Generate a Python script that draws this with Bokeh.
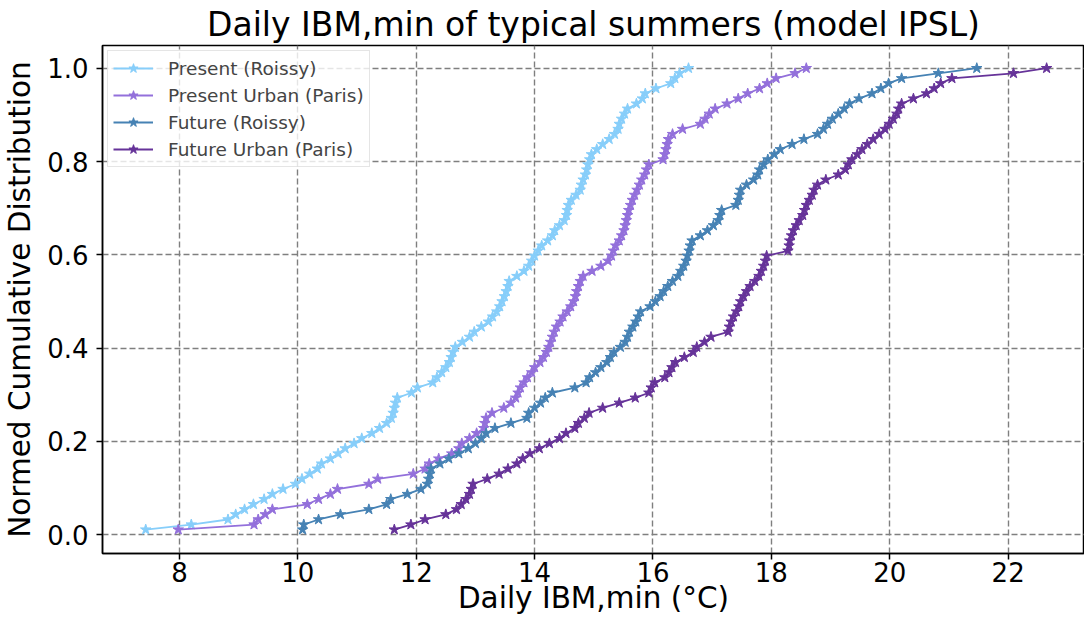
from bokeh.plotting import figure
from bokeh.models import Range1d, FixedTicker, PrintfTickFormatter, Title
from bokeh.embed import file_html
from bokeh.resources import INLINE

# Normed cumulative fraction (rank / 92 days)
cum_frac = [
    0.0109, 0.0217, 0.0326, 0.0435, 0.0543, 0.0652, 0.0761, 0.0870, 0.0978, 0.1087,
    0.1196, 0.1304, 0.1413, 0.1522, 0.1630, 0.1739, 0.1848, 0.1957, 0.2065, 0.2174,
    0.2283, 0.2391, 0.2500, 0.2609, 0.2717, 0.2826, 0.2935, 0.3043, 0.3152, 0.3261,
    0.3370, 0.3478, 0.3587, 0.3696, 0.3804, 0.3913, 0.4022, 0.4130, 0.4239, 0.4348,
    0.4457, 0.4565, 0.4674, 0.4783, 0.4891, 0.5000, 0.5109, 0.5217, 0.5326, 0.5435,
    0.5543, 0.5652, 0.5761, 0.5870, 0.5978, 0.6087, 0.6196, 0.6304, 0.6413, 0.6522,
    0.6630, 0.6739, 0.6848, 0.6957, 0.7065, 0.7174, 0.7283, 0.7391, 0.7500, 0.7609,
    0.7717, 0.7826, 0.7935, 0.8043, 0.8152, 0.8261, 0.8370, 0.8478, 0.8587, 0.8696,
    0.8804, 0.8913, 0.9022, 0.9130, 0.9239, 0.9348, 0.9457, 0.9565, 0.9674, 0.9783,
    0.9891, 1.0000,
]

present_roissy = [
    7.43, 8.20, 8.82, 8.95, 9.10, 9.25, 9.43, 9.57, 9.75, 9.96,
    10.07, 10.20, 10.33, 10.40, 10.55, 10.68, 10.80, 10.95, 11.08, 11.25,
    11.38, 11.50, 11.58, 11.61, 11.63, 11.65, 11.68, 11.92, 12.02, 12.28,
    12.35, 12.43, 12.50, 12.56, 12.59, 12.62, 12.66, 12.78, 12.90, 12.98,
    13.10, 13.22, 13.29, 13.36, 13.41, 13.45, 13.49, 13.52, 13.55, 13.57,
    13.70, 13.82, 13.90, 13.95, 14.00, 14.06, 14.12, 14.22, 14.30, 14.34,
    14.42, 14.50, 14.54, 14.55, 14.57, 14.62, 14.70, 14.77, 14.79, 14.82,
    14.86, 14.88, 14.90, 14.93, 14.96, 15.05, 15.15, 15.26, 15.35, 15.41,
    15.43, 15.47, 15.52, 15.57, 15.72, 15.82, 15.87, 16.05, 16.30, 16.37,
    16.45, 16.60,
]

present_urban = [
    7.98, 9.26, 9.33, 9.45, 9.57, 10.16, 10.35, 10.55, 10.67, 11.20,
    11.35, 11.95, 12.15, 12.22, 12.38, 12.60, 12.72, 12.77, 12.90, 13.02,
    13.14, 13.16, 13.18, 13.28, 13.48, 13.60, 13.68, 13.72, 13.76, 13.82,
    13.88, 13.95, 14.00, 14.09, 14.15, 14.20, 14.24, 14.27, 14.30, 14.33,
    14.37, 14.43, 14.48, 14.55, 14.61, 14.66, 14.69, 14.71, 14.74, 14.77,
    14.82, 14.97, 15.12, 15.24, 15.30, 15.33, 15.37, 15.43, 15.47, 15.51,
    15.53, 15.55, 15.57, 15.59, 15.62, 15.65, 15.69, 15.73, 15.77, 15.81,
    15.86, 15.89, 15.93, 16.17, 16.20, 16.22, 16.24, 16.26, 16.33, 16.50,
    16.80, 16.88, 16.95, 17.05, 17.25, 17.44, 17.60, 17.80, 17.93, 18.08,
    18.40, 18.59,
]

future_roissy = [
    10.08, 10.10, 10.35, 10.72, 11.20, 11.50, 11.57, 11.85, 12.08, 12.19,
    12.21, 12.23, 12.25, 12.40, 12.55, 12.72, 12.88, 13.00, 13.10, 13.18,
    13.33, 13.60, 13.87, 13.90, 14.00, 14.10, 14.18, 14.30, 14.68, 14.87,
    14.93, 15.03, 15.12, 15.22, 15.28, 15.34, 15.45, 15.53, 15.57, 15.60,
    15.66, 15.71, 15.75, 15.79, 15.95, 16.04, 16.12, 16.18, 16.25, 16.33,
    16.42, 16.47, 16.52, 16.56, 16.58, 16.61, 16.63, 16.66, 16.80, 16.92,
    17.02, 17.10, 17.13, 17.16, 17.40, 17.44, 17.46, 17.48, 17.58, 17.70,
    17.77, 17.80, 17.87, 17.94, 18.05, 18.15, 18.35, 18.55, 18.78, 18.88,
    18.95, 19.03, 19.13, 19.23, 19.32, 19.48, 19.70, 19.85, 19.98, 20.20,
    20.82, 21.47,
]

future_urban = [
    11.63, 11.91, 12.15, 12.50, 12.68, 12.76, 12.84, 12.90, 12.93, 12.96,
    13.20, 13.40, 13.55, 13.70, 13.80, 13.92, 14.08, 14.25, 14.42, 14.53,
    14.68, 14.74, 14.84, 14.92, 15.15, 15.43, 15.70, 15.93, 15.97, 16.03,
    16.20, 16.27, 16.32, 16.38, 16.53, 16.68, 16.74, 16.87, 16.98, 17.27,
    17.29, 17.32, 17.36, 17.41, 17.45, 17.48, 17.53, 17.58, 17.64, 17.72,
    17.79, 17.83, 17.87, 17.90, 17.92, 18.28, 18.30, 18.31, 18.34, 18.37,
    18.42, 18.47, 18.53, 18.56, 18.59, 18.64, 18.69, 18.72, 18.78, 18.92,
    19.13, 19.25, 19.30, 19.36, 19.45, 19.53, 19.62, 19.72, 19.82, 19.92,
    19.99, 20.06, 20.12, 20.15, 20.20, 20.40, 20.62, 20.75, 20.86, 21.05,
    22.09, 22.65,
]

series_names = ["Present (Roissy)", "Present Urban (Paris)", "Future (Roissy)", "Future Urban (Paris)"]
series_values = [present_roissy, present_urban, future_roissy, future_urban]
series_colors = ["#87CEFA", "#9370DB", "#4682B4", "#663399"]

x_ticks = [8, 10, 12, 14, 16, 18, 20, 22]
y_ticks = [0.0, 0.2, 0.4, 0.6, 0.8, 1.0]

FONT = "DejaVu Sans"

p = figure(
    frame_width=982, frame_height=508,
    x_range=Range1d(6.70, 23.29), y_range=Range1d(-0.0403, 1.0487),
    output_backend="svg", toolbar_location=None,
    min_border_left=0, min_border_top=0, min_border_right=0, min_border_bottom=0,
    background_fill_color="white", border_fill_color="white",
)

p.outline_line_color = "black"
p.outline_line_width = 1.5
p.outline_line_alpha = 1.0

p.add_layout(Title(text="Daily IBM,min of typical summers (model IPSL)", align="center",
                   text_font=FONT, text_font_size="33px", text_font_style="normal",
                   text_color="black", standoff=4), "above")

for name, vals, col in zip(series_names, series_values, series_colors):
    p.line(vals, cum_frac, line_color=col, line_width=1.8, legend_label=name)
    p.scatter(vals, cum_frac, marker="star", size=11, fill_color=col, line_color=col,
              legend_label=name)

p.xaxis.ticker = FixedTicker(ticks=x_ticks)
p.yaxis.ticker = FixedTicker(ticks=y_ticks)
p.yaxis.formatter = PrintfTickFormatter(format="%.1f")

for ax in (p.xaxis, p.yaxis):
    ax.axis_line_width = 1.5
    ax.axis_line_color = "black"
    ax.major_tick_line_width = 1.5
    ax.major_tick_line_color = "black"
    ax.major_tick_out = 6
    ax.major_tick_in = 0
    ax.minor_tick_line_color = None
    ax.major_label_text_font = FONT
    ax.major_label_text_font_size = "26px"
    ax.major_label_text_color = "black"
    ax.axis_label_text_font = FONT
    ax.axis_label_text_font_size = "29.5px"
    ax.axis_label_text_font_style = "normal"
    ax.axis_label_text_color = "black"

p.xaxis.axis_label = "Daily IBM,min (°C)"
p.yaxis.axis_label = "Normed Cumulative Distribution"
p.xaxis.major_label_standoff = 2
p.yaxis.major_label_standoff = 8
p.xaxis.axis_label_standoff = -4
p.yaxis.axis_label_standoff = 7

p.grid.grid_line_color = "#7f7f7f"
p.grid.grid_line_dash = "6 3"
p.grid.grid_line_width = 1.4

lg = p.legend[0]
lg.location = "top_left"
lg.margin = 5
lg.padding = 5
lg.spacing = 3
lg.glyph_width = 40
lg.glyph_height = 24
lg.label_height = 24
lg.label_standoff = 15
lg.label_text_font = FONT
lg.label_text_font_size = "18.5px"
lg.border_line_color = "#cccccc"
lg.border_line_width = 1.2
lg.background_fill_alpha = 0.8

open("out.html", "w").write(file_html(p, INLINE))
